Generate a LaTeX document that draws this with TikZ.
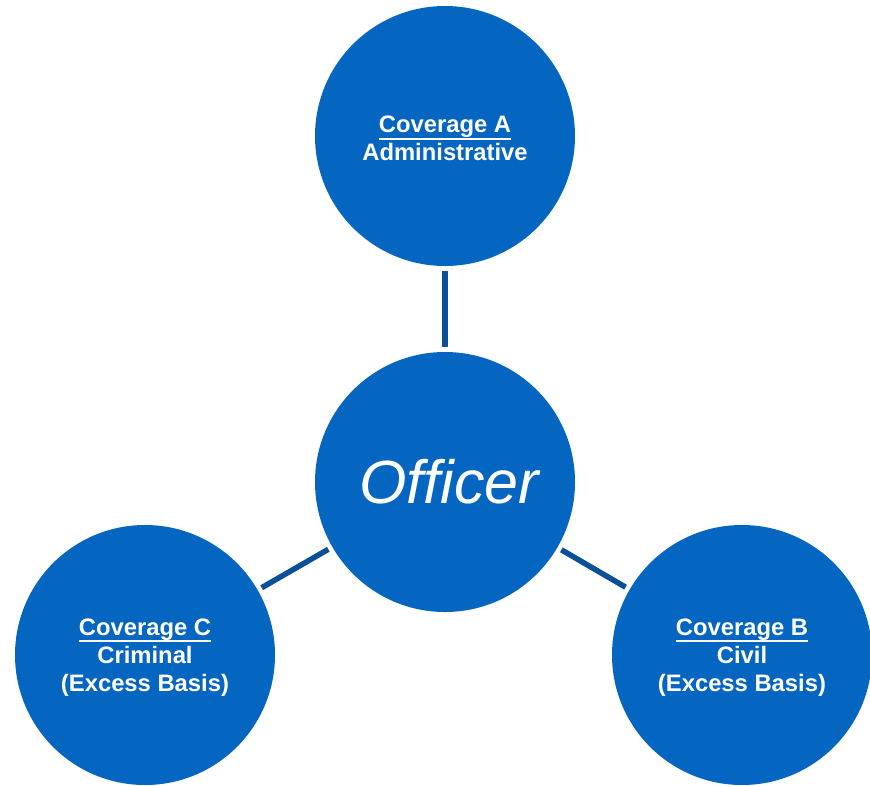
\documentclass[tikz,border=0pt]{standalone}
\usepackage{fontspec}
\setmainfont{Liberation Sans}
\definecolor{circblue}{RGB}{5,102,193}
\definecolor{linkblue}{RGB}{10,80,152}
\newcommand\myul[1]{\setbox0\hbox{#1}\rlap{\rule[-\dimexpr\dp0+1.8pt\relax]{\wd0}{2pt}}\box0}
\newcommand\topstrut{\rule{0pt}{22pt}}
\begin{document}
\begin{tikzpicture}[x=1pt,y=-1pt,
  bubble/.style={circle,fill=circblue,draw=none,minimum size=260pt,inner sep=0pt,
    text=white,align=center,font=\fontsize{23.8}{28}\selectfont\bfseries},
  link/.style={draw=linkblue,line width=5.5pt,shorten <=4.5pt,shorten >=4.5pt}]
\useasboundingbox (0,0) rectangle (870,785);
\node[bubble] (top) at (445,136) {\topstrut\myul{Coverage A}\\Administrative};
\node[bubble,font=\fontsize{61}{62}\selectfont\itshape] (mid) at (445,482) {\hspace*{8pt}Officer};
\node[bubble] (left) at (145,655) {\topstrut\myul{Coverage C}\\Criminal\\(Excess Basis)};
\node[bubble] (right) at (742,655) {\topstrut\myul{Coverage B}\\Civil\\(Excess Basis)};
\draw[link] (top) -- (mid);
\draw[link] (left) -- (mid);
\draw[link] (right) -- (mid);
\end{tikzpicture}
\end{document}
